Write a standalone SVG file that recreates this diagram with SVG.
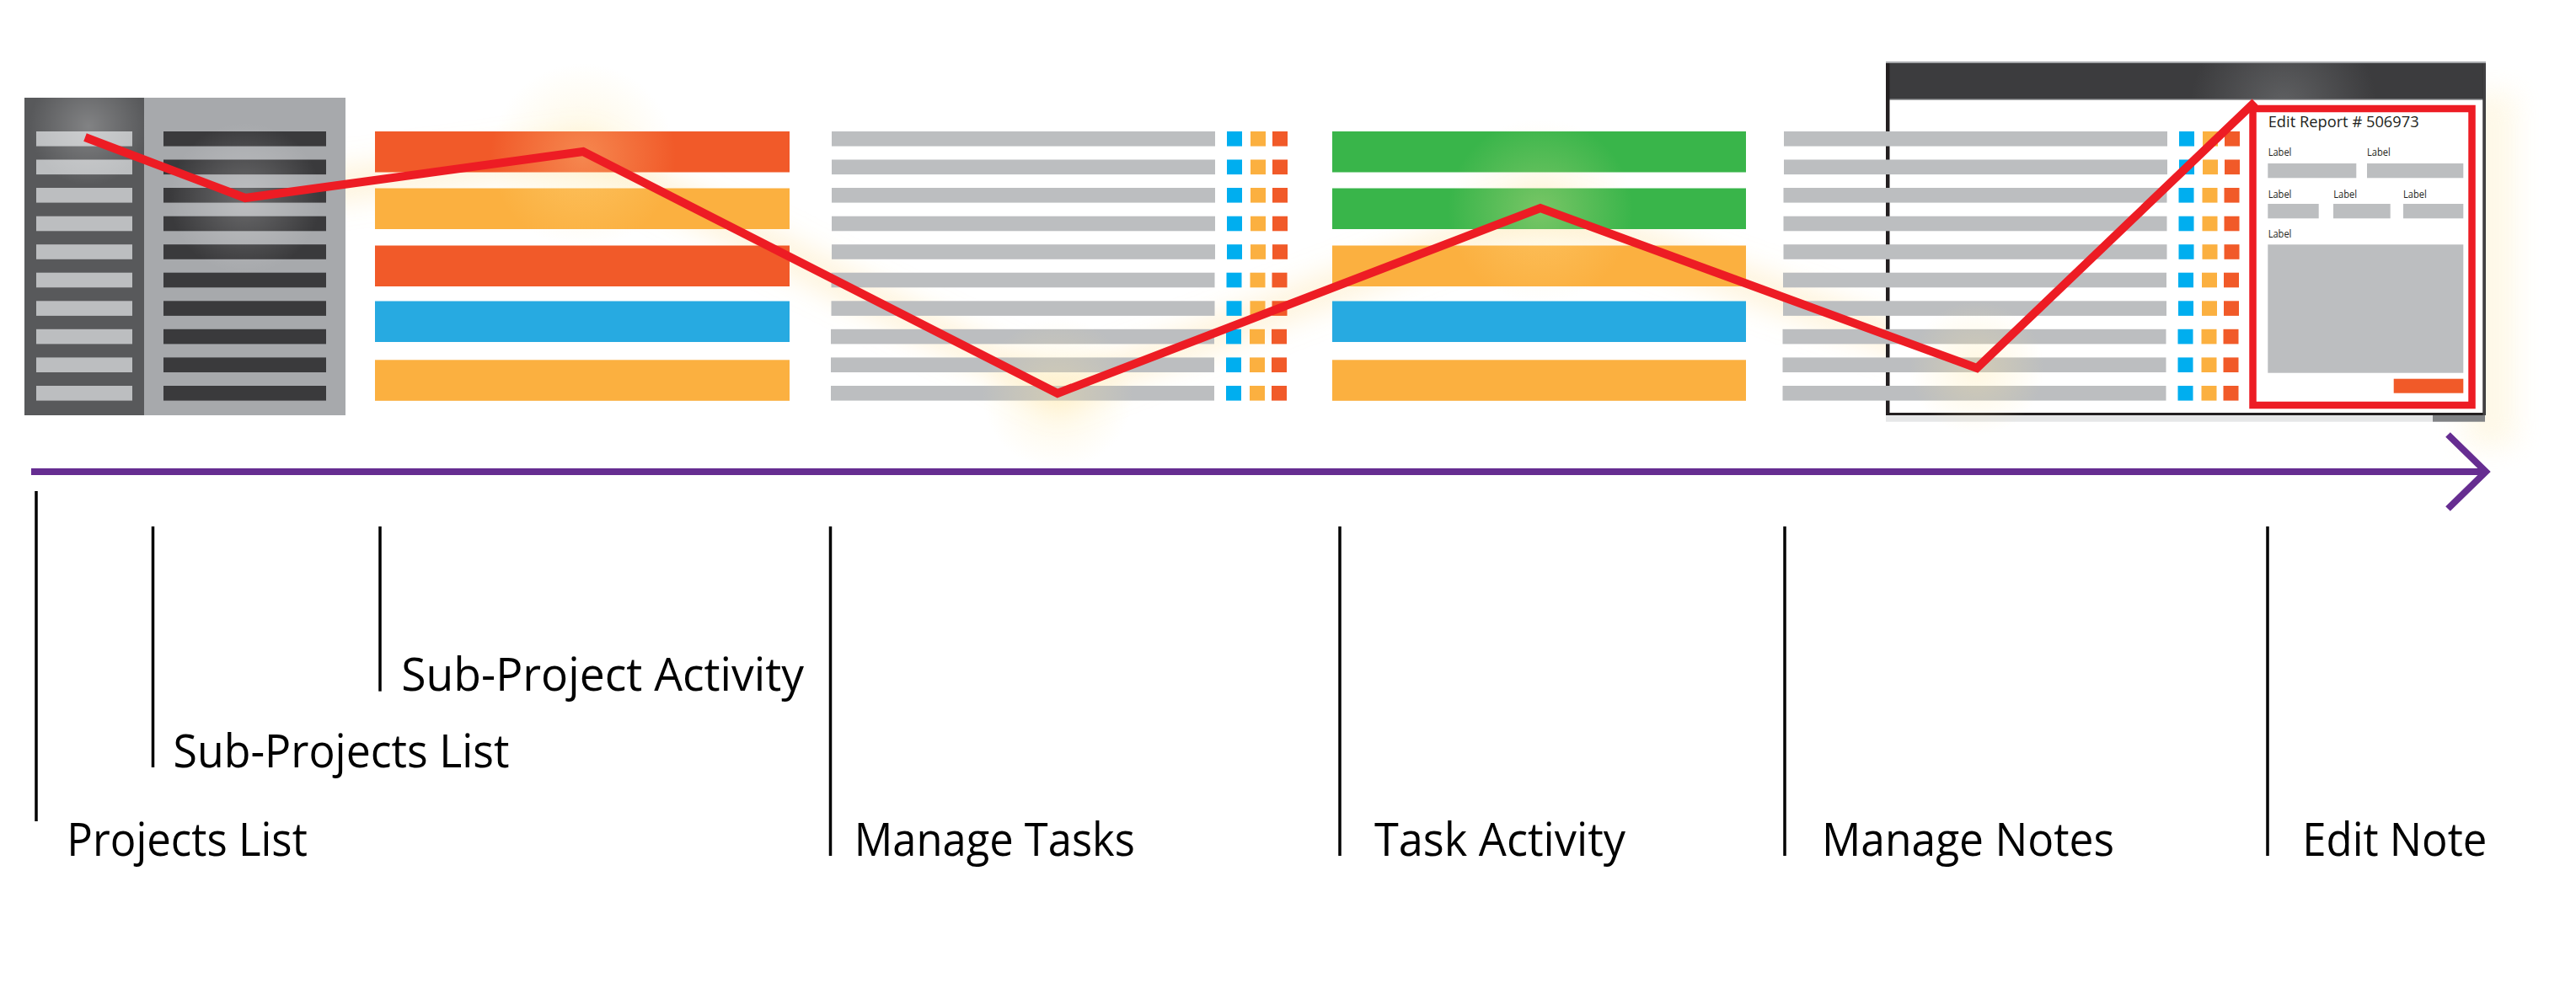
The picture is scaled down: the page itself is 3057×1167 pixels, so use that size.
<svg xmlns="http://www.w3.org/2000/svg" width="3057" height="1167" viewBox="0 0 3057 1167">
<style>
  .lbl{font-family:"Open Sans","Noto Sans",sans-serif;font-size:55px;fill:#000}
  .tick{stroke:#000;stroke-width:3.5;fill:none}
  .lr{fill:#BCBEC0}
  .dr{fill:#3A3A3C}
  .gb{fill:#BCBEC0}
  .sqb{fill:#00AEEF}
  .sqa{fill:#FBB040}
  .sqo{fill:#F15A29}
  .or{fill:#F15A29}
  .am{fill:#FBB040}
  .bl{fill:#27AAE1}
  .gr{fill:#39B54A}
  .fld{fill:#BCBEC0}
  .small{font-family:"Open Sans","Noto Sans",sans-serif;font-size:13px;fill:#231F20}
  .title{font-family:"Open Sans","Noto Sans",sans-serif;font-size:19px;fill:#231F20}
</style>
<defs>
  <g id="listrow">
    <rect x="0" y="0" width="455" height="17.6" class="gb"/>
    <rect x="469" y="0" width="18" height="17.6" class="sqb"/>
    <rect x="497" y="0" width="18" height="17.6" class="sqa"/>
    <rect x="523" y="0" width="18" height="17.6" class="sqo"/>
  </g>
  <radialGradient id="hlY">
    <stop offset="0" stop-color="#FFE7A0" stop-opacity="0.32"/>
    <stop offset="1" stop-color="#FFE7A0" stop-opacity="0"/>
  </radialGradient>
  <radialGradient id="hlW">
    <stop offset="0" stop-color="#FFFFFF" stop-opacity="0.25"/>
    <stop offset="1" stop-color="#FFFFFF" stop-opacity="0"/>
  </radialGradient>
  <radialGradient id="tbar" cx="2710" cy="125" r="110" gradientUnits="userSpaceOnUse">
    <stop offset="0" stop-color="#5F6062"/>
    <stop offset="1" stop-color="#3C3C3E"/>
  </radialGradient>
  <filter id="glow" filterUnits="userSpaceOnUse" x="0" y="0" width="3057" height="700">
    <feGaussianBlur stdDeviation="16"/>
  </filter>
</defs>

<!-- soft glows -->
<g id="glows">
  <polyline points="101,163 291,235 692,180 1255,467 1828,247 2346,437 2676,121" fill="none" stroke="#FCD98A" stroke-opacity="0.3" stroke-width="40" filter="url(#glow)"/>
  <rect x="2925" y="110" width="60" height="420" fill="#FDEFC6" opacity="0.4" filter="url(#glow)"/>
</g>

<g id="projects-list">
  <rect x="29" y="116" width="142" height="377" fill="#58595B"/>
  <rect x="43" y="156" width="114" height="17.6" class="lr"/>
  <rect x="43" y="189.5" width="114" height="17.6" class="lr"/>
  <rect x="43" y="223" width="114" height="17.6" class="lr"/>
  <rect x="43" y="256.7" width="114" height="17.6" class="lr"/>
  <rect x="43" y="290.2" width="114" height="17.6" class="lr"/>
  <rect x="43" y="323.7" width="114" height="17.6" class="lr"/>
  <rect x="43" y="357.3" width="114" height="17.6" class="lr"/>
  <rect x="43" y="390.8" width="114" height="17.6" class="lr"/>
  <rect x="43" y="424.4" width="114" height="17.6" class="lr"/>
  <rect x="43" y="458" width="114" height="17.6" class="lr"/>
</g>

<g id="sub-projects-list">
  <rect x="171" y="116" width="239" height="377" fill="#A7A9AC"/>
  <rect x="194" y="156" width="193" height="17.6" class="dr"/>
  <rect x="194" y="189.5" width="193" height="17.6" class="dr"/>
  <rect x="194" y="223" width="193" height="17.6" class="dr"/>
  <rect x="194" y="256.7" width="193" height="17.6" class="dr"/>
  <rect x="194" y="290.2" width="193" height="17.6" class="dr"/>
  <rect x="194" y="323.7" width="193" height="17.6" class="dr"/>
  <rect x="194" y="357.3" width="193" height="17.6" class="dr"/>
  <rect x="194" y="390.8" width="193" height="17.6" class="dr"/>
  <rect x="194" y="424.4" width="193" height="17.6" class="dr"/>
  <rect x="194" y="458" width="193" height="17.6" class="dr"/>
</g>

<g id="sub-project-activity">
  <rect x="445" y="156" width="492" height="48.5" class="or"/>
  <rect x="445" y="223.5" width="492" height="48.5" class="am"/>
  <rect x="445" y="291.5" width="492" height="48.5" class="or"/>
  <rect x="445" y="357.5" width="492" height="48.5" class="bl"/>
  <rect x="445" y="427.3" width="492" height="48.5" class="am"/>
</g>

<g id="manage-tasks">
  <use href="#listrow" x="987" y="156"/>
  <use href="#listrow" x="987" y="189.5"/>
  <use href="#listrow" x="987" y="223"/>
  <use href="#listrow" x="987" y="256.7"/>
  <use href="#listrow" x="987" y="290.2"/>
  <use href="#listrow" x="986.5" y="323.7"/>
  <use href="#listrow" x="986.5" y="357.3"/>
  <use href="#listrow" x="986" y="390.8"/>
  <use href="#listrow" x="986" y="424.4"/>
  <use href="#listrow" x="986" y="458"/>
</g>

<g id="task-activity">
  <rect x="1581" y="156" width="491" height="48.5" class="gr"/>
  <rect x="1581" y="223.5" width="491" height="48.5" class="gr"/>
  <rect x="1581" y="291.5" width="491" height="48.5" class="am"/>
  <rect x="1581" y="357.5" width="491" height="48.5" class="bl"/>
  <rect x="1581" y="427.3" width="491" height="48.5" class="am"/>
</g>

<g id="edit-note-window">
  <rect x="2238" y="74" width="712" height="419" fill="#231F20"/>
  <rect x="2238" y="73" width="712" height="2" fill="#A7A9AC"/>
  <rect x="2242.5" y="75" width="704" height="42" fill="url(#tbar)"/>
  <rect x="2242.5" y="117" width="704" height="1.5" fill="#6D6E71"/>
  <rect x="2242.5" y="118.5" width="704" height="371.5" fill="#FFFFFF"/>
  <rect x="2946.5" y="75" width="3.5" height="418" fill="#414042"/>
  <rect x="2238" y="493" width="649" height="7.7" fill="#E6E7E8"/>
  <rect x="2887" y="493" width="62" height="7.7" fill="#808285"/>
</g>

<g id="manage-notes">
  <use href="#listrow" x="2117" y="156"/>
  <use href="#listrow" x="2117" y="189.5"/>
  <use href="#listrow" x="2116.5" y="223"/>
  <use href="#listrow" x="2116.5" y="256.7"/>
  <use href="#listrow" x="2116.5" y="290.2"/>
  <use href="#listrow" x="2116" y="323.7"/>
  <use href="#listrow" x="2116" y="357.3"/>
  <use href="#listrow" x="2115.5" y="390.8"/>
  <use href="#listrow" x="2115.5" y="424.4"/>
  <use href="#listrow" x="2115.5" y="458"/>
</g>

<g id="edit-note">
  <rect x="2673.5" y="129" width="260" height="352" fill="#FFFFFF" stroke="#ED1C24" stroke-width="8.5"/>
  <text x="2691.7" y="150.7" class="title" textLength="179" lengthAdjust="spacingAndGlyphs">Edit Report # 506973</text>
  <text x="2691.7" y="185" class="small" textLength="27.7" lengthAdjust="spacingAndGlyphs">Label</text>
  <text x="2809" y="185" class="small" textLength="27.7" lengthAdjust="spacingAndGlyphs">Label</text>
  <rect x="2691.3" y="194" width="105" height="17.3" class="fld"/>
  <rect x="2809" y="194" width="114.3" height="17.3" class="fld"/>
  <text x="2691.7" y="235" class="small" textLength="27.7" lengthAdjust="spacingAndGlyphs">Label</text>
  <text x="2769.3" y="235" class="small" textLength="27.7" lengthAdjust="spacingAndGlyphs">Label</text>
  <text x="2852" y="235" class="small" textLength="27.7" lengthAdjust="spacingAndGlyphs">Label</text>
  <rect x="2691.3" y="242" width="60.4" height="17.3" class="fld"/>
  <rect x="2769" y="242" width="67.7" height="17.3" class="fld"/>
  <rect x="2852" y="242" width="71.3" height="17.3" class="fld"/>
  <text x="2691.7" y="281.7" class="small" textLength="27.7" lengthAdjust="spacingAndGlyphs">Label</text>
  <rect x="2691.3" y="290.3" width="232" height="152.4" class="fld"/>
  <rect x="2840.7" y="449.7" width="82.6" height="17" class="sqo"/>
</g>

<!-- highlights at path vertices -->
<g id="highlights">
  <circle cx="105" cy="150" r="70" fill="url(#hlW)"/>
  <circle cx="291" cy="235" r="90" fill="url(#hlW)"/>
  <circle cx="692" cy="185" r="110" fill="url(#hlY)"/>
  <circle cx="1255" cy="467" r="90" fill="url(#hlY)"/>
  <circle cx="1828" cy="250" r="110" fill="url(#hlY)"/>
  <circle cx="2346" cy="437" r="80" fill="url(#hlY)"/>
</g>

<g id="connectors">
  <polyline id="path" points="101,163 291,235 692,180 1255,467 1828,247 2346,437 2676,121" fill="none" stroke="#ED1C24" stroke-width="10" stroke-linejoin="miter" stroke-miterlimit="10"/>
  <line id="timeline" x1="37" y1="560" x2="2949" y2="560" stroke="#662D91" stroke-width="8"/>
  <polyline points="2905,516 2950,560 2905,604" fill="none" stroke="#662D91" stroke-width="8" stroke-linejoin="miter"/>
</g>

<g id="label-projects-list">
  <line x1="43" y1="583" x2="43" y2="975" class="tick"/>
  <text x="79.3" y="1016" class="lbl" textLength="285.5" lengthAdjust="spacingAndGlyphs">Projects List</text>
</g>
<g id="label-sub-projects-list">
  <line x1="181.5" y1="625" x2="181.5" y2="911" class="tick"/>
  <text x="205.5" y="910.7" class="lbl" textLength="399" lengthAdjust="spacingAndGlyphs">Sub-Projects List</text>
</g>
<g id="label-sub-project-activity">
  <line x1="451" y1="625" x2="451" y2="820.7" class="tick"/>
  <text x="476.3" y="819.6" class="lbl" textLength="477.7" lengthAdjust="spacingAndGlyphs">Sub-Project Activity</text>
</g>
<g id="label-manage-tasks">
  <line x1="985.5" y1="625" x2="985.5" y2="1016" class="tick"/>
  <text x="1013.8" y="1016" class="lbl" textLength="333" lengthAdjust="spacingAndGlyphs">Manage Tasks</text>
</g>
<g id="label-task-activity">
  <line x1="1590" y1="625" x2="1590" y2="1016" class="tick"/>
  <text x="1631" y="1016" class="lbl" textLength="298" lengthAdjust="spacingAndGlyphs">Task Activity</text>
</g>
<g id="label-manage-notes">
  <line x1="2118" y1="625" x2="2118" y2="1016" class="tick"/>
  <text x="2162" y="1016" class="lbl" textLength="347" lengthAdjust="spacingAndGlyphs">Manage Notes</text>
</g>
<g id="label-edit-note">
  <line x1="2691" y1="625" x2="2691" y2="1016" class="tick"/>
  <text x="2732.3" y="1016" class="lbl" textLength="219" lengthAdjust="spacingAndGlyphs">Edit Note</text>
</g>
</svg>
